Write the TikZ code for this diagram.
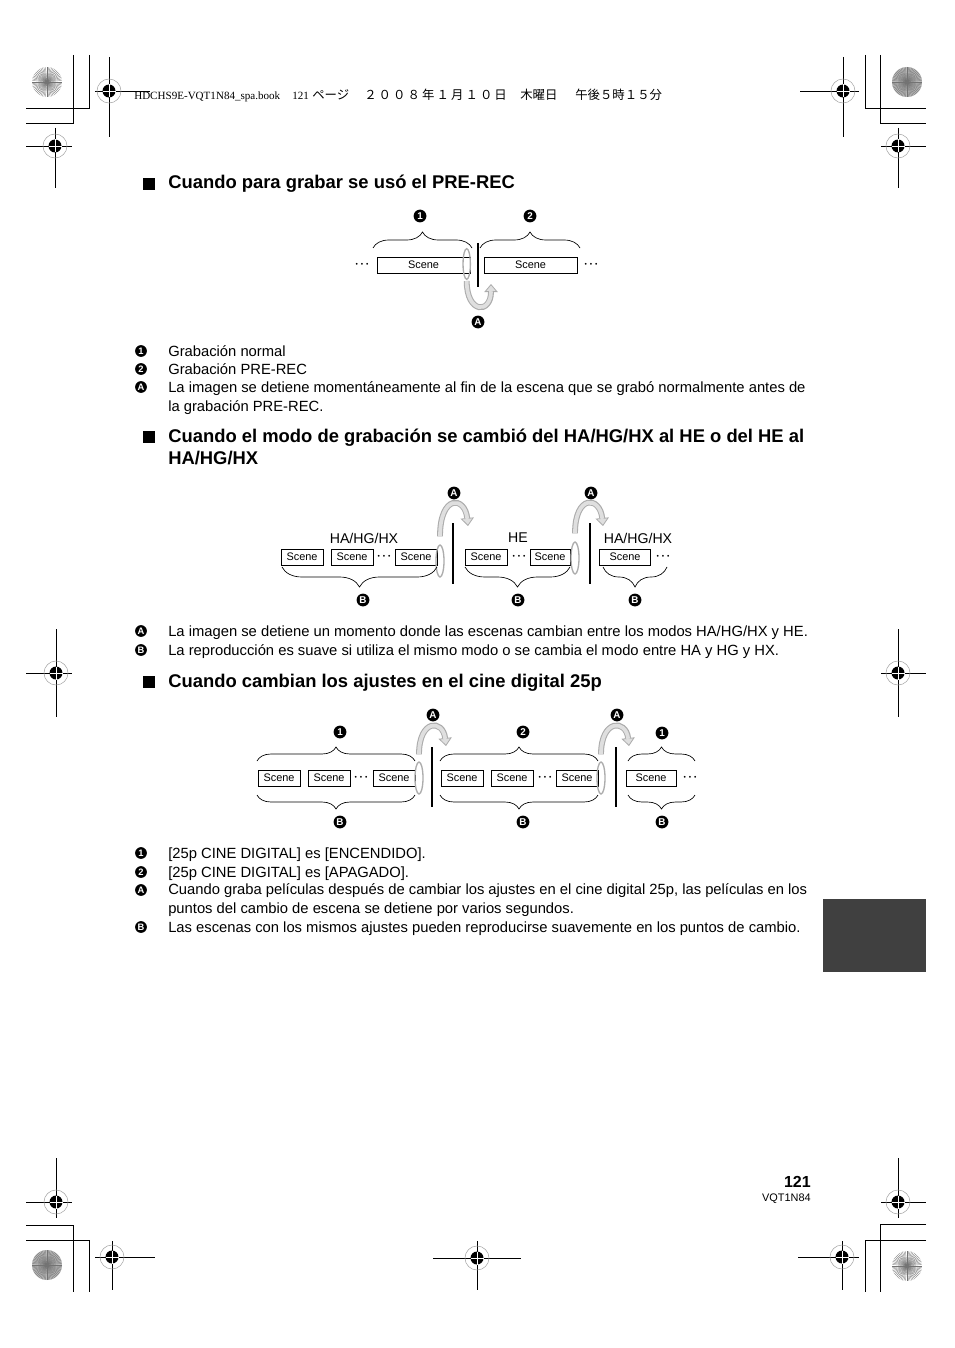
\documentclass[tikz,border=0pt]{standalone}
\usepackage{fontspec}
\setmainfont{Liberation Sans}
\newfontfamily\cjk{Noto Sans CJK JP}
\newfontfamily\hdrfont{Liberation Serif}
\usetikzlibrary{arrows.meta,positioning,shapes.geometric,decorations.pathreplacing,calc}
\tikzset{
    scene/.style={
        draw,
        line width=0.5pt,
        fill=white,
        inner sep=0pt,
        minimum height=12pt,
        font=\fontsize{8.2}{8.2}\selectfont
    },
    badge/.style={
        circle,
        fill=black,
        text=white,
        inner sep=0pt,
        minimum size=9.6pt,
        font=\bfseries\fontsize{7.4}{7.4}\selectfont
    },
    key/.style={badge, minimum size=8.8pt, font=\bfseries\fontsize{7}{7}\selectfont},
    more/.style={inner sep=0pt, font=\fontsize{5}{5}\selectfont},
    hold/.style={
        draw=gray!65,
        line width=1pt,
        ellipse,
        inner sep=0pt,
        minimum width=6pt,
        minimum height=24pt
    },
    cut/.style={line width=1.5pt},
    brace/.style={decorate, decoration={brace, amplitude=#1}, line width=0.5pt},
    bracedown/.style={decorate, decoration={brace, mirror, amplitude=#1}, line width=0.5pt},
    jumpout/.style={
        draw=gray!65,
        line width=4.4pt,
        -{Triangle[width=10pt, length=6pt, fill=gray!25, line width=0.6pt]}
    },
    jumpin/.style={draw=gray!25, line width=2.8pt, shorten >=5.4pt},
    tag/.style={inner sep=0pt, font=\fontsize{10.6}{10.6}\selectfont},
    heading/.style={anchor=base west, inner sep=0pt, align=left, font=\bfseries\fontsize{13.8}{16.5}\selectfont},
    item/.style={anchor=base west, inner sep=0pt, align=left, font=\fontsize{11.08}{13.9}\selectfont},
    hdr/.style={anchor=base west, inner sep=0pt, font=\cjk\fontsize{9.3}{9.3}\selectfont}
}
\newcommand{\tdots}{\textbullet\hspace{2.2pt}\textbullet\hspace{2.2pt}\textbullet}
\newcommand{\regmark}[6]{%
    \draw[line width=0.6pt] (#3,#2) -- (#4,#2) (#1,#5) -- (#1,#6);
    \draw[gray!70, line width=0.4pt] (#1,#2) circle[radius=12];
    \fill (#1,#2) circle[radius=6.5];
    \draw[white, line width=0.5pt] (#1-6.5,#2) -- (#1+6.5,#2) (#1,#2-6.5) -- (#1,#2+6.5);
}
\newcommand{\burst}[3]{%
    \fill[#3] (#1,#2) circle[radius=15];
    \foreach \a in {0,6,...,354}
        \draw[black!55, line width=0.25pt] (#1,#2) -- ++(\a:15);
}

\begin{document}
\begin{tikzpicture}[x=0.75pt, y=-0.75pt]
    \fill[white] (0,0) rectangle (954,1348);
    \useasboundingbox (0,0) rectangle (954,1348);

    \burst{47}{82}{white}
    \burst{907}{82}{gray!55}
    \burst{47}{1265}{gray!55}
    \burst{907}{1266}{white}
    \draw[line width=0.6pt] (73,55) -- (73,123) -- (26,123) (89,55) -- (89,108) -- (26,108);
    \draw[line width=0.6pt] (865,55) -- (865,108) -- (926,108) (880,55) -- (880,123) -- (926,123);
    \draw[line width=0.6pt] (26,1225) -- (73,1225) -- (73,1292) (26,1240) -- (89,1240) -- (89,1292);
    \draw[line width=0.6pt] (926,1224) -- (880,1224) -- (880,1292) (926,1240) -- (865,1240) -- (865,1292);
    \regmark{109}{91}{95}{150}{57}{137}
    \regmark{843}{91}{800}{859}{57}{137}
    \regmark{55}{146}{26}{72}{128}{188}
    \regmark{898}{146}{881}{926}{128}{188}
    \regmark{56}{673}{26}{72}{629}{717}
    \regmark{898}{673}{881}{926}{629}{717}
    \regmark{56}{1202}{26}{72}{1158}{1218}
    \regmark{898}{1202}{881}{926}{1158}{1218}
    \regmark{112}{1257}{95}{155}{1241}{1290}
    \regmark{477}{1258}{433}{521}{1241}{1290}
    \regmark{842}{1257}{798}{859}{1241}{1290}

    \node[hdr, font=\hdrfont\fontsize{8.3}{8.3}\selectfont] (hdr1) at (134,100) {HDCHS9E-VQT1N84\_spa.book};
    \node[hdr, font=\hdrfont\fontsize{8.3}{8.3}\selectfont] (hdr2) at (292,100) {121};
    \node[hdr] (hdr3) at (312,100) {ページ};
    \node[hdr] (hdr4) at (364,100) {２\,０\,０\,８\,年\,１\,月\,１\,０\,日};
    \node[hdr] (hdr5) at (520,100) {木曜日};
    \node[hdr] (hdr6) at (575,100) {午後５時１５分};

    \fill[black!75] (823,899) rectangle (926,972);
    \node[anchor=base east, inner sep=0pt, font=\bfseries\fontsize{12}{12}\selectfont] (pnum) at (811,1187) {121};
    \node[anchor=base east, inner sep=0pt, font=\fontsize{8.2}{8.2}\selectfont] (pcode) at (811,1201) {VQT1N84};

    \fill (143,178) rectangle (155,190);
    \node[heading] (h1) at (168,189) {Cuando para grabar se usó el PRE-REC};

    \node[scene, minimum width=69.75pt] (d1a) at (423.5,265) {Scene};
    \node[scene, minimum width=69.75pt] (d1b) at (530.5,265) {Scene};
    \node[more] (d1l) at (362,265) {\tdots};
    \node[more] (d1r) at (591,265) {\tdots};
    \node[hold, minimum width=5.5pt, minimum height=23pt] (d1h) at (466.7,264) {};
    \draw[cut] (478,243) -- (478,287);
    \draw[brace=12pt] (373,248) -- (472,248);
    \draw[brace=12pt] (480,248) -- (580,248);
    \node[badge] (d1n1) at (420,216) {1};
    \node[badge] (d1n2) at (530,216) {2};
    \node[badge] (d1na) at (478,322) {A};
    \coordinate (d1e) at (491,284);
    \draw[jumpout] ($(d1h.south)+(0,1)$) .. controls (466.7,314) and (491,314) .. (d1e);
    \draw[jumpin] ($(d1h.south)+(0,1)$) .. controls (466.7,314) and (491,314) .. (d1e);

    \node[key] (k1) at (141,351) {1};
    \node[item] (t1) at (168,356.5) {Grabación normal};
    \node[key] (k2) at (141,369) {2};
    \node[item] (t2) at (168,374.5) {Grabación PRE-REC};
    \node[key] (k3) at (141,387) {A};
    \node[item] (t3) at (168,411) {La imagen se detiene momentáneamente al fin de la escena que se grabó normalmente antes de\\la grabación PRE-REC.};

    \fill (143,431) rectangle (155,443);
    \node[heading] (h2) at (168,464) {Cuando el modo de grabación se cambió del HA/HG/HX al HE o del HE al\\HA/HG/HX};

    \node[tag] (d2t1) at (364,538) {HA/HG/HX};
    \node[tag] (d2t2) at (518,538) {HE};
    \node[tag] (d2t3) at (638,538) {HA/HG/HX};
    \node[scene, minimum width=31.5pt] (d2a) at (302,557) {Scene};
    \node[scene, minimum width=31.5pt] (d2b) at (352,557) {Scene};
    \node[more] (d2l) at (384,557) {\tdots};
    \node[scene, minimum width=31.5pt] (d2c) at (416,557) {Scene};
    \node[hold] (d2h1) at (440,561) {};
    \node[scene, minimum width=31.5pt] (d2d) at (486,557) {Scene};
    \node[more] (d2m) at (519,557) {\tdots};
    \node[scene, minimum width=30pt] (d2e) at (550,557) {Scene};
    \node[hold] (d2h2) at (575,558) {};
    \node[scene, minimum width=38pt] (d2f) at (625,557) {Scene};
    \node[more] (d2r) at (663,557) {\tdots};
    \draw[cut] (453,523) -- (453,584);
    \draw[cut] (589.5,523) -- (589.5,584);
    \draw[bracedown=15pt] (282,567) -- (437,567);
    \draw[bracedown=15pt] (465,567) -- (570,567);
    \draw[bracedown=15pt] (603,567) -- (667,567);
    \node[badge] (d2b1) at (363,600) {B};
    \node[badge] (d2b2) at (518,600) {B};
    \node[badge] (d2b3) at (635,600) {B};
    \node[badge] (d2a1) at (454,493) {A};
    \node[badge] (d2a2) at (591,493) {A};
    \coordinate (d2e1) at (468,526);
    \coordinate (d2e2) at (603,526);
    \draw[jumpout] ($(d2h1.north)+(0,-8)$) .. controls (440,494) and (465,496) .. (d2e1);
    \draw[jumpin] ($(d2h1.north)+(0,-8)$) .. controls (440,494) and (465,496) .. (d2e1);
    \draw[jumpout] ($(d2h2.north)+(0,-8)$) .. controls (575,494) and (600,496) .. (d2e2);
    \draw[jumpin] ($(d2h2.north)+(0,-8)$) .. controls (575,494) and (600,496) .. (d2e2);

    \node[key] (k4) at (141,631) {A};
    \node[item] (t4) at (168,636.5) {La imagen se detiene un momento donde las escenas cambian entre los modos HA/HG/HX y HE.};
    \node[key] (k5) at (141,650) {B};
    \node[item] (t5) at (168,655.5) {La reproducción es suave si utiliza el mismo modo o se cambia el modo entre HA y HG y HX.};

    \fill (143,676) rectangle (155,688);
    \node[heading] (h3) at (168,687) {Cuando cambian los ajustes en el cine digital 25p};

    \node[scene, minimum width=31.5pt] (d3a) at (279,778) {Scene};
    \node[scene, minimum width=31.5pt] (d3b) at (329,778) {Scene};
    \node[more] (d3l) at (361,778) {\tdots};
    \node[scene, minimum width=31.5pt] (d3c) at (394,778) {Scene};
    \node[hold] (d3h1) at (419,778) {};
    \node[scene, minimum width=31.5pt] (d3d) at (462,778) {Scene};
    \node[scene, minimum width=31.5pt] (d3e) at (512,778) {Scene};
    \node[more] (d3m) at (545,778) {\tdots};
    \node[scene, minimum width=31.5pt] (d3f) at (577,778) {Scene};
    \node[hold] (d3h2) at (601,778) {};
    \node[scene, minimum width=37.5pt] (d3g) at (651,778) {Scene};
    \node[more] (d3r) at (690,778) {\tdots};
    \draw[cut] (432,747) -- (432,807);
    \draw[cut] (616,747) -- (616,807);
    \draw[brace=10.5pt] (257,761) -- (415,761);
    \draw[brace=10.5pt] (440,761) -- (598,761);
    \draw[brace=10.5pt] (628,761) -- (695,761);
    \draw[bracedown=10.5pt] (257,795) -- (415,795);
    \draw[bracedown=10.5pt] (440,795) -- (598,795);
    \draw[bracedown=10.5pt] (628,795) -- (695,795);
    \node[badge] (d3n1) at (340,732) {1};
    \node[badge] (d3n2) at (523,732) {2};
    \node[badge] (d3n3) at (662,733) {1};
    \node[badge] (d3a1) at (433,715) {A};
    \node[badge] (d3a2) at (617,715) {A};
    \node[badge] (d3b1) at (340,822) {B};
    \node[badge] (d3b2) at (523,822) {B};
    \node[badge] (d3b3) at (662,822) {B};
    \coordinate (d3e1) at (446,746);
    \coordinate (d3e2) at (629,746);
    \draw[jumpout] ($(d3h1.north)+(0,-7)$) .. controls (419,719) and (443,719) .. (d3e1);
    \draw[jumpin] ($(d3h1.north)+(0,-7)$) .. controls (419,719) and (443,719) .. (d3e1);
    \draw[jumpout] ($(d3h2.north)+(0,-7)$) .. controls (601,719) and (626,719) .. (d3e2);
    \draw[jumpin] ($(d3h2.north)+(0,-7)$) .. controls (601,719) and (626,719) .. (d3e2);

    \node[key] (k6) at (141,853) {1};
    \node[item] (t6) at (168,858.5) {[25p CINE DIGITAL] es [ENCENDIDO].};
    \node[key] (k7) at (141,872) {2};
    \node[item] (t7) at (168,877.5) {[25p CINE DIGITAL] es [APAGADO].};
    \node[key] (k8) at (141,890) {A};
    \node[item] (t8) at (168,913.5) {Cuando graba películas después de cambiar los ajustes en el cine digital 25p, las películas en los\\puntos del cambio de escena se detiene por varios segundos.};
    \node[key] (k9) at (141,927) {B};
    \node[item] (t9) at (168,932.5) {Las escenas con los mismos ajustes pueden reproducirse suavemente en los puntos de cambio.};
\end{tikzpicture}
\end{document}
